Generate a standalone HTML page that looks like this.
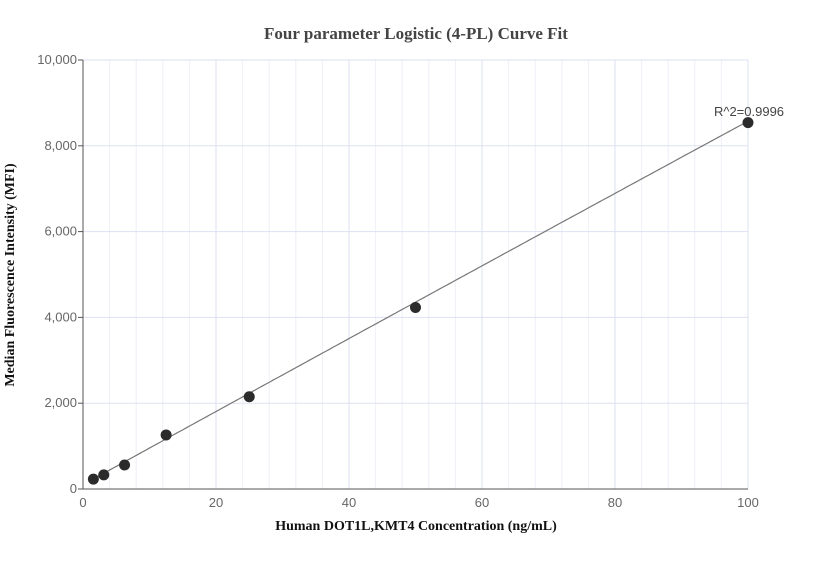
<!DOCTYPE html>
<html><head><meta charset="utf-8"><style>
body{margin:0;background:#fff;width:832px;height:560px;overflow:hidden}
svg text{font-family:"Liberation Sans",sans-serif}
</style></head><body>
<svg id="chart" width="832" height="560">
<text x="416" y="39" text-anchor="middle" font-family="Liberation Serif" style="font-family:'Liberation Serif',serif" font-weight="bold" font-size="17" fill="#444">Four parameter Logistic (4-PL) Curve Fit</text>
<g id="grid"></g>
<g id="axes"></g>
<path id="fit" fill="none" stroke="#777" stroke-width="1.2"/>
<g id="pts"></g>
<text x="749" y="116" text-anchor="middle" font-size="13" fill="#444">R^2=0.9996</text>
<text x="416" y="530" text-anchor="middle" style="font-family:'Liberation Serif',serif" font-weight="bold" font-size="14" fill="#111">Human DOT1L,KMT4 Concentration (ng/mL)</text>
<text transform="translate(14,275) rotate(-90)" text-anchor="middle" style="font-family:'Liberation Serif',serif" font-weight="bold" font-size="14" fill="#111">Median Fluorescence Intensity (MFI)</text>
</svg>
<script>
const concentrations=[1.5625,3.125,6.25,12.5,25,50,100];
const mfiValues=[230,330,560,1260,2150,4230,8540];
const xTicks=[0,20,40,60,80,100];
const yTicks=[0,2000,4000,6000,8000,10000];
const fitParams=[100,1,11700,1000000];
const X0=83,X1=748,Y0=489,Y1=60;
const sx=v=>X0+(X1-X0)*v/100, sy=v=>Y0-(Y0-Y1)*v/10000;
const NS="http://www.w3.org/2000/svg";
function mk(t,a,p){const e=document.createElementNS(NS,t);for(const k in a)e.setAttribute(k,a[k]);p.appendChild(e);return e;}
const grid=document.getElementById('grid'),axes=document.getElementById('axes'),pts=document.getElementById('pts');
for(let v=4;v<100;v+=4){if(v%20===0)continue;const l=mk('line',{x1:sx(v),x2:sx(v),y1:Y1,y2:Y0,stroke:'#eef0f8'},grid);

}
xTicks.forEach(v=>{if(v>0){const l=mk('line',{x1:sx(v),x2:sx(v),y1:Y1,y2:Y0,stroke:'#dde1f0'},grid);

}
const t=mk('text',{x:sx(v),y:Y0+18,'text-anchor':'middle','font-size':13,fill:'#666'},axes);t.textContent=v;

});
yTicks.forEach(v=>{if(v>0){const l=mk('line',{x1:X0,x2:X1,y1:sy(v),y2:sy(v),stroke:'#dde1f0'},grid);

}
mk('line',{x1:X0-5,x2:X0,y1:sy(v),y2:sy(v),stroke:'#555'},axes);
const t=mk('text',{x:X0-6,y:sy(v)+4,'text-anchor':'end','font-size':13,fill:'#666'},axes);t.textContent=v.toLocaleString('en-US');

});
mk('line',{x1:X0,x2:X0,y1:Y1,y2:Y0,stroke:'#555'},axes);
mk('line',{x1:X0,x2:X1,y1:Y0,y2:Y0,stroke:'#555'},axes);
const [a,b,c,d]=fitParams;const f=x=>d+(a-d)/(1+Math.pow(x/c,b));
let p='';for(let x=concentrations[0];x<=100.001;x+=0.5){p+=(p?'L':'M')+sx(x).toFixed(1)+','+sy(f(x)).toFixed(1);}
p+='L'+sx(100)+','+sy(f(100)).toFixed(1);
document.getElementById('fit').setAttribute('d',p);
concentrations.forEach((x,i)=>{const c=mk('circle',{cx:sx(x),cy:sy(mfiValues[i]),r:5.5,fill:'#2b2b2b'},pts);

});
</script>
</body></html>
